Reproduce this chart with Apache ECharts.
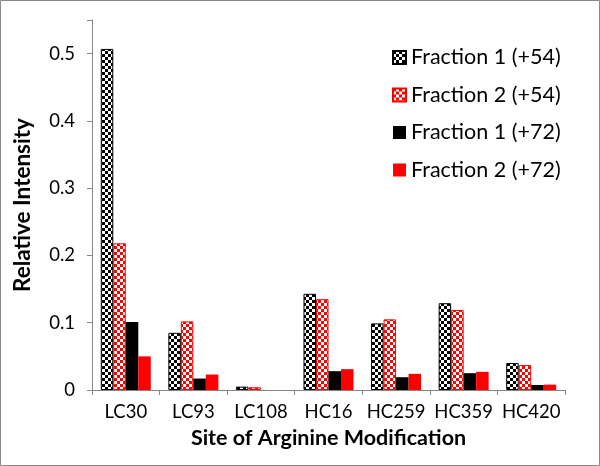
<!DOCTYPE html>
<html>
<head>
<meta charset="utf-8">
<script src="https://cdn.jsdelivr.net/npm/echarts@6/dist/echarts.min.js"></script>
<style>
  html, body { margin: 0; padding: 0; background: #fff; }
  #main { width: 600px; height: 466px; }
</style>
</head>
<body>
<div id="main"></div>
<script>
const sites = ['LC30', 'LC93', 'LC108', 'HC16', 'HC259', 'HC359', 'HC420'];
const seriesNames = ['Fraction 1 (+54)', 'Fraction 2 (+54)', 'Fraction 1 (+72)', 'Fraction 2 (+72)'];
const frac1_54 = [0.507, 0.085, 0.005, 0.143, 0.099, 0.129, 0.040];
const frac2_54 = [0.218, 0.102, 0.004, 0.135, 0.105, 0.119, 0.037];
const frac1_72 = [0.101, 0.017, 0, 0.028, 0.019, 0.025, 0.0074];
const frac2_72 = [0.050, 0.023, 0, 0.031, 0.024, 0.027, 0.008];
const yTicks = [0, 0.1, 0.2, 0.3, 0.4, 0.5];

// checker pattern for the "+54" bars
function checker(color) {
  const c = document.createElement('canvas');
  c.width = 6; c.height = 6;
  const ctx = c.getContext('2d');
  ctx.fillStyle = '#fff';
  ctx.fillRect(0, 0, 6, 6);
  ctx.fillStyle = color;
  ctx.fillRect(0, 0, 3, 3);
  ctx.fillRect(3, 3, 3, 3);
  return c;
}

const font = 'Lato';
const chart = echarts.init(document.getElementById('main'));

const mk = (name, data, fill, border, bw) => ({
  name: name,
  type: 'bar',
  data: data,
  barGap: '0%',
  barCategoryGap: '26%',
  itemStyle: { color: fill, borderColor: border, borderWidth: bw }
});

const option = {
  backgroundColor: '#fff',
  animation: false,
  grid: { left: 92, right: 35, top: 20, bottom: 76 },
  legend: {
    orient: 'vertical',
    left: 392,
    top: 46.5,
    padding: 0,
    itemWidth: 13,
    itemHeight: 13,
    itemGap: 15.5,
    icon: 'rect',
    textStyle: { fontFamily: font, fontSize: 21.5, color: '#000', lineHeight: 22 },
    data: seriesNames
  },
  xAxis: {
    type: 'category',
    data: sites,
    name: 'Site of Arginine Modification',
    nameLocation: 'middle',
    nameGap: 36,
    nameTextStyle: { fontFamily: font, fontWeight: 'bold', fontSize: 21.5, color: '#000' },
    axisLine: { lineStyle: { color: '#868686' } },
    axisTick: { show: true, length: 5, lineStyle: { color: '#868686' } },
    axisLabel: { fontFamily: font, fontSize: 18.5, color: '#000', margin: 13, interval: 0 }
  },
  yAxis: {
    type: 'value',
    min: 0,
    max: 0.55,
    interval: 0.1,
    name: 'Relative Intensity',
    nameLocation: 'middle',
    nameGap: 58,
    nameTextStyle: { fontFamily: font, fontWeight: 'bold', fontSize: 22.5, color: '#000' },
    splitLine: { show: false },
    axisLine: { show: true, lineStyle: { color: '#868686' } },
    axisTick: { show: true, length: 5, lineStyle: { color: '#868686' } },
    axisLabel: {
      fontFamily: font, fontSize: 18.5, color: '#000', margin: 17,
      formatter: v => yTicks.some(t => Math.abs(t - v) < 1e-9) ? String(+v.toFixed(1)) : ''
    }
  },
  series: [
    mk(seriesNames[0], frac1_54, { image: checker('#000'), repeat: 'repeat' }, '#000', 1),
    mk(seriesNames[1], frac2_54, { image: checker('#ff0000'), repeat: 'repeat' }, '#ff0000', 1),
    mk(seriesNames[2], frac1_72, '#000', '#000', 0),
    mk(seriesNames[3], frac2_72, '#ff0000', '#ff0000', 0)
  ],
  graphic: [{
    type: 'rect',
    shape: { x: 0.5, y: 0.5, width: 599, height: 465 },
    style: { fill: 'none', stroke: '#888', lineWidth: 1 },
    silent: true
  }]
};

chart.setOption(option);
</script>
</body>
</html>
